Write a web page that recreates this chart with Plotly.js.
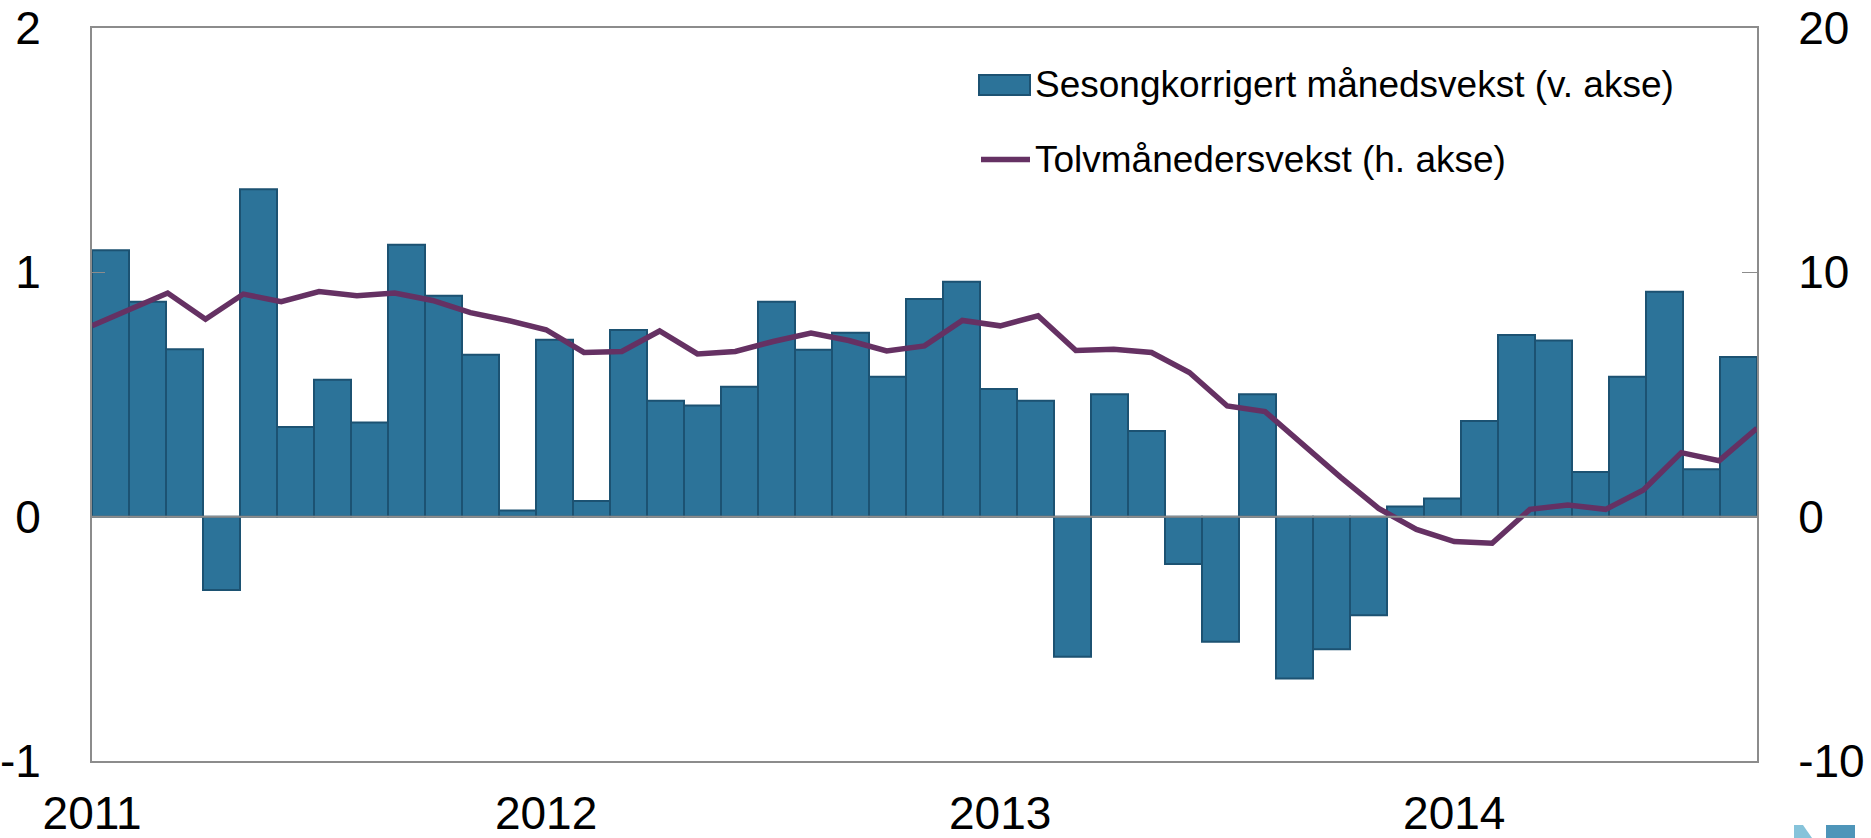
<!DOCTYPE html>
<html>
<head>
<meta charset="utf-8">
<script src="https://cdn.plot.ly/plotly-3.0.1.min.js"></script>
<style>
  html, body { margin: 0; padding: 0; background: #ffffff; }
  #chart { width: 1871px; height: 838px; }
</style>
</head>
<body>
<div id="chart"></div>
<script>
// ---- data ----
const months = [
  "2011-01","2011-02","2011-03","2011-04","2011-05","2011-06","2011-07","2011-08","2011-09","2011-10","2011-11","2011-12",
  "2012-01","2012-02","2012-03","2012-04","2012-05","2012-06","2012-07","2012-08","2012-09","2012-10","2012-11","2012-12",
  "2013-01","2013-02","2013-03","2013-04","2013-05","2013-06","2013-07","2013-08","2013-09","2013-10","2013-11","2013-12",
  "2014-01","2014-02","2014-03","2014-04","2014-05","2014-06","2014-07","2014-08","2014-09"
];
// Sesongkorrigert månedsvekst (venstre akse)
const monthlyGrowth = [
  1.09, 0.88, 0.685, -0.30, 1.34, 0.367, 0.56, 0.385, 1.113, 0.904, 0.663, 0.025,
  0.724, 0.064, 0.764, 0.474, 0.455, 0.532, 0.88, 0.683, 0.753, 0.573, 0.891, 0.961,
  0.522, 0.474, -0.573, 0.501, 0.351, -0.194, -0.512, 0.501, -0.662, -0.543, -0.403, 0.042,
  0.074, 0.392, 0.744, 0.721, 0.183, 0.573, 0.921, 0.194, 0.653
];
// Tolvmånedersvekst (høyre akse)
const twelveMonthGrowth = [
  7.81, 8.48, 9.15, 8.08, 9.11, 8.80, 9.21, 9.04, 9.15, 8.85, 8.35, 8.03,
  7.65, 6.72, 6.76, 7.60, 6.66, 6.76, 7.17, 7.51, 7.21, 6.78, 6.99, 8.03,
  7.81, 8.22, 6.80, 6.85, 6.72, 5.90, 4.53, 4.30, 2.94, 1.61, 0.34, -0.52,
  -1.02, -1.09, 0.30, 0.48, 0.30, 1.09, 2.62, 2.29, 3.62
];
const yearTickVals = ["2011-01","2012-01","2013-01","2014-01"];
const yearTickText = ["2011","2012","2013","2014"];
const leftTicks = [-1, 0, 1, 2];
const rightTicks = [-10, 0, 10, 20];
const seriesNames = ["Sesongkorrigert månedsvekst (v. akse)", "Tolvmånedersvekst (h. akse)"];

// ---- style ----
const W = 1871, H = 838;
const M = { l: 92, r: 114, t: 28, b: 77 };
const PW = W - M.l - M.r, PH = H - M.t - M.b;
const FONT = "Liberation Sans, Arial, Helvetica, sans-serif";
const BAR = "#2c7399";
const BAR_EDGE = "#1c5272";
const LINE = "#653163";
const AXIS = "#8c8c8c";

// pixel -> paper helpers (for legend/logo decorations only)
const px = x => (x - M.l) / PW;
const py = y => (H - M.b - y) / PH;

const traces = [
  {
    type: "bar",
    x: months,
    y: monthlyGrowth,
    xaxis: "x",
    yaxis: "y",
    name: seriesNames[0],
    marker: { color: BAR, line: { color: BAR_EDGE, width: 2 } },
    showlegend: false,
    hoverinfo: "x+y"
  },
  {
    type: "scatter",
    mode: "lines",
    x: months,
    y: twelveMonthGrowth,
    xaxis: "x2",
    yaxis: "y2",
    name: seriesNames[1],
    line: { color: LINE, width: 5.5 },
    showlegend: false,
    hoverinfo: "x+y"
  }
];

const tickFont = { family: FONT, size: 46, color: "#000000" };

const layout = {
  width: W,
  height: H,
  margin: M,
  paper_bgcolor: "#ffffff",
  plot_bgcolor: "#ffffff",
  bargap: 0,
  showlegend: false,
  font: { family: FONT, color: "#000000" },
  xaxis: {
    type: "category",
    range: [-0.5, months.length - 0.5],
    showticklabels: false,
    ticks: "",
    showgrid: false,
    zeroline: false,
    showline: true,
    mirror: true,
    linecolor: AXIS,
    linewidth: 2,
    fixedrange: true
  },
  xaxis2: {
    type: "category",
    overlaying: "x",
    anchor: "y",
    side: "bottom",
    range: [0, months.length - 1],
    tickmode: "array",
    tickvals: yearTickVals,
    ticktext: yearTickText,
    ticks: "",
    showgrid: false,
    zeroline: false,
    showline: false,
    tickfont: tickFont,
    ticklabelstandoff: 21,
    fixedrange: true
  },
  yaxis: {
    range: [-1, 2],
    tickmode: "array",
    tickvals: leftTicks,
    ticktext: leftTicks.map(String),
    ticks: "inside",
    ticklen: 13,
    tickwidth: 1.5,
    tickcolor: AXIS,
    showgrid: false,
    zeroline: false,
    showline: true,
    linecolor: AXIS,
    linewidth: 2,
    tickfont: tickFont,
    ticklabelstandoff: 40,
    fixedrange: true
  },
  yaxis2: {
    range: [-10, 20],
    overlaying: "y",
    side: "right",
    anchor: "x",
    tickmode: "array",
    tickvals: rightTicks,
    ticktext: rightTicks.map(String),
    ticks: "inside",
    ticklen: 15,
    tickwidth: 1.5,
    tickcolor: AXIS,
    showgrid: false,
    zeroline: false,
    showline: true,
    linecolor: AXIS,
    linewidth: 2,
    tickfont: tickFont,
    ticklabelstandoff: 30,
    fixedrange: true
  },
  shapes: [
    // zero line of the left axis
    { type: "line", xref: "paper", yref: "y", x0: 0, x1: 1, y0: 0, y1: 0,
      line: { color: AXIS, width: 2 }, layer: "above" },
    // legend symbols
    { type: "rect", xref: "paper", yref: "paper",
      x0: px(979), x1: px(1030), y0: py(95), y1: py(75),
      fillcolor: BAR, line: { color: BAR_EDGE, width: 2 } },
    { type: "line", xref: "paper", yref: "paper",
      x0: px(981), x1: px(1030), y0: py(159.5), y1: py(159.5),
      line: { color: LINE, width: 5.5 } },
    // partial logo at the bottom right corner
    { type: "path", xref: "paper", yref: "paper",
      path: "M " + px(1794) + "," + py(825) + " L " + px(1803) + "," + py(825) +
            " L " + px(1812) + "," + py(838) + " L " + px(1794) + "," + py(838) + " Z",
      fillcolor: "#86c3da", line: { width: 0 } },
    { type: "rect", xref: "paper", yref: "paper",
      x0: px(1826), x1: px(1855), y0: py(838), y1: py(825),
      fillcolor: "#4e95b9", line: { width: 0 } }
  ],
  annotations: [
    { xref: "paper", yref: "paper", x: px(1033), y: py(84), xanchor: "left", yanchor: "middle",
      text: seriesNames[0], showarrow: false, font: { family: FONT, size: 37, color: "#000000" } },
    { xref: "paper", yref: "paper", x: px(1033), y: py(160), xanchor: "left", yanchor: "middle",
      text: seriesNames[1], showarrow: false, font: { family: FONT, size: 37, color: "#000000" } }
  ]
};

Plotly.newPlot("chart", traces, layout, { staticPlot: true, displayModeBar: false });
</script>
</body>
</html>
